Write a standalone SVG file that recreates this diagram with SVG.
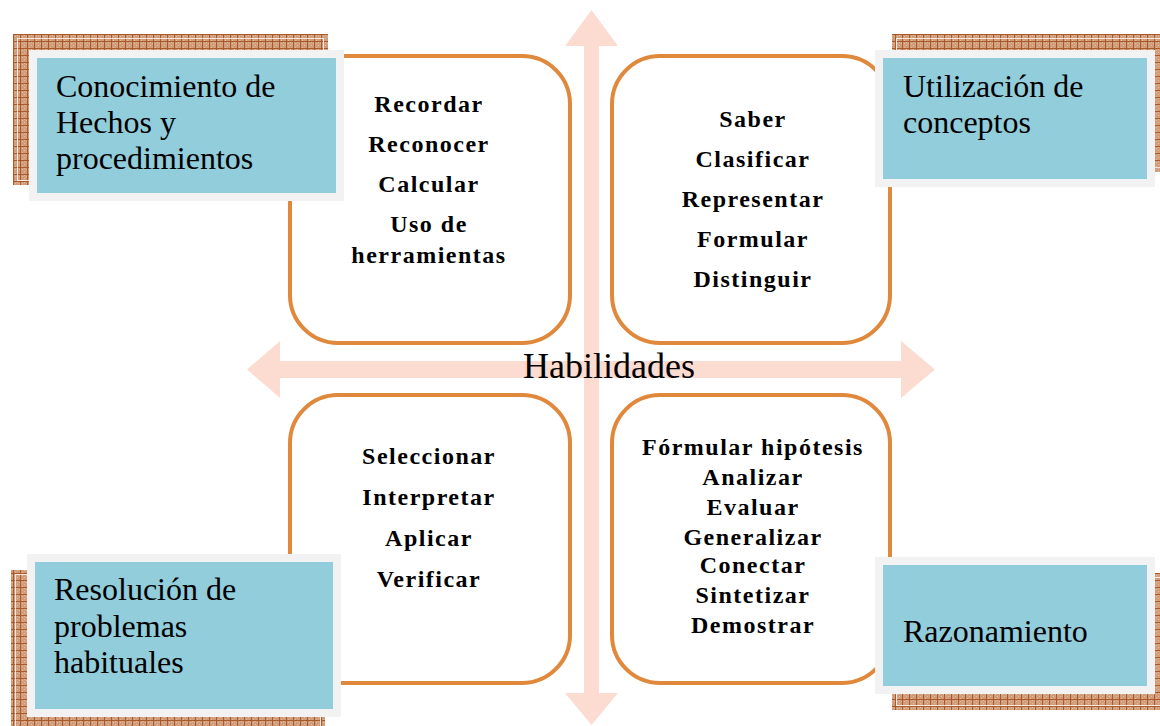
<svg xmlns="http://www.w3.org/2000/svg" width="1160" height="726" viewBox="0 0 1160 726">
  <defs>
    <pattern id="grid" patternUnits="userSpaceOnUse" width="7" height="7">
      <rect width="7" height="7" fill="#d09c79"/>
      <rect x="1" y="1" width="1" height="1" fill="#e2bca2"/>
      <rect x="3" y="3" width="1" height="1" fill="#e2bca2"/>
      <rect x="5" y="1" width="1" height="1" fill="#e2bca2"/>
      <rect x="1" y="5" width="1" height="1" fill="#e2bca2"/>
      <rect x="3" y="0" width="1" height="1" fill="#e2bca2"/>
      <path d="M6.5 0V7M0 6.5H7" stroke="#a9592a" stroke-width="1"/>
    </pattern>
  </defs>
  <style>
    .box { fill: #ffffff; stroke: #e0883c; stroke-width: 4; }
    .shadow { fill: url(#grid); }
    .inset { fill: none; stroke: #ffffff; stroke-width: 1; opacity: 0.8; }
    .frame { fill: #f2f2f2; }
    .blue { fill: #92cddc; }
    .lbl { font-family: "Liberation Serif", "Times New Roman", serif; font-size: 32px; fill: #000000; }
    .item { font-family: "Liberation Serif", "Times New Roman", serif; font-size: 24px; font-weight: bold; letter-spacing: 1.5px; fill: #000000; text-anchor: middle; }
    .axis { fill: #fcdcd0; }
    .title { font-family: "Liberation Serif", "Times New Roman", serif; font-size: 36px; fill: #000000; text-anchor: middle; }
  </style>
  <rect width="1160" height="726" fill="#ffffff"/>

  <g id="connectors">
    <polygon class="axis" points="591.5,10 618,46 599,46 599,693 618,693 591.5,725 565,693 584,693 584,46 565,46"/>
    <polygon class="axis" points="247,369.5 280,341 280,361 901,361 901,341 935,369.5 901,398 901,378 280,378 280,398"/>
  </g>

  <g id="box-tl">
    <rect class="box" x="290" y="56" width="280" height="287" rx="48" ry="48"/>
    <text class="item" x="429" y="112">Recordar</text>
    <text class="item" x="429" y="152">Reconocer</text>
    <text class="item" x="429" y="192">Calcular</text>
    <text class="item" x="429" y="232">Uso de</text>
    <text class="item" x="429" y="263">herramientas</text>
  </g>

  <g id="box-tr">
    <rect class="box" x="612" y="56" width="278" height="287" rx="48" ry="48"/>
    <text class="item" x="753" y="127">Saber</text>
    <text class="item" x="753" y="167">Clasificar</text>
    <text class="item" x="753" y="207">Representar</text>
    <text class="item" x="753" y="247">Formular</text>
    <text class="item" x="753" y="287">Distinguir</text>
  </g>

  <g id="box-bl">
    <rect class="box" x="290" y="395" width="280" height="288" rx="48" ry="48"/>
    <text class="item" x="429" y="464">Seleccionar</text>
    <text class="item" x="429" y="505">Interpretar</text>
    <text class="item" x="429" y="546">Aplicar</text>
    <text class="item" x="429" y="587">Verificar</text>
  </g>

  <g id="box-br">
    <rect class="box" x="612" y="395" width="278" height="288" rx="48" ry="48"/>
    <text class="item" x="753" y="455">Fórmular hipótesis</text>
    <text class="item" x="753" y="485">Analizar</text>
    <text class="item" x="753" y="515">Evaluar</text>
    <text class="item" x="753" y="545">Generalizar</text>
    <text class="item" x="753" y="573">Conectar</text>
    <text class="item" x="753" y="603">Sintetizar</text>
    <text class="item" x="753" y="633">Demostrar</text>
  </g>

  <g id="center-label">
    <text class="title" x="609" y="378">Habilidades</text>
  </g>

  <g id="label-tl">
    <rect class="shadow" x="13" y="34" width="315" height="151"/>
    <rect class="inset" x="17.5" y="38.5" width="306" height="142"/>
    <rect class="frame" x="29" y="50" width="315" height="151"/>
    <rect class="blue" x="37" y="58" width="299" height="135"/>
    <text class="lbl" x="56" y="97">Conocimiento de</text>
    <text class="lbl" x="56" y="133">Hechos y</text>
    <text class="lbl" x="56" y="169">procedimientos</text>
  </g>

  <g id="label-tr">
    <rect class="shadow" x="892" y="34" width="280" height="138"/>
    <rect class="inset" x="896.5" y="38.5" width="271" height="129"/>
    <rect class="frame" x="875" y="50" width="280" height="137"/>
    <rect class="blue" x="883" y="58" width="264" height="121"/>
    <text class="lbl" x="903" y="97">Utilización de</text>
    <text class="lbl" x="903" y="133">conceptos</text>
  </g>

  <g id="label-bl">
    <rect class="shadow" x="11" y="570" width="314" height="163"/>
    <rect class="inset" x="15.5" y="574.5" width="305" height="154"/>
    <rect class="frame" x="27" y="554" width="314" height="163"/>
    <rect class="blue" x="35" y="562" width="298" height="147"/>
    <text class="lbl" x="54" y="600">Resolución de</text>
    <text class="lbl" x="54" y="637">problemas</text>
    <text class="lbl" x="54" y="673">habituales</text>
  </g>

  <g id="label-br">
    <rect class="shadow" x="892" y="573" width="280" height="137"/>
    <rect class="inset" x="896.5" y="577.5" width="271" height="128"/>
    <rect class="frame" x="875" y="557" width="280" height="137"/>
    <rect class="blue" x="883" y="565" width="264" height="121"/>
    <text class="lbl" x="903" y="642">Razonamiento</text>
  </g>
</svg>
